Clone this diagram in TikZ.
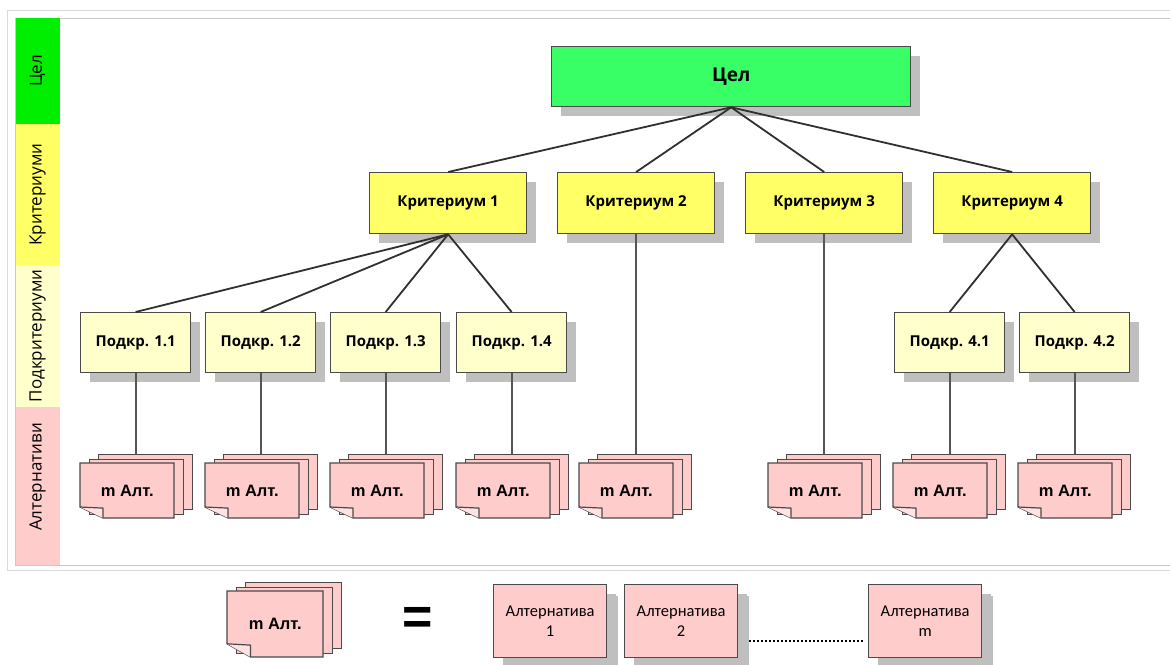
\documentclass[tikz,border=0pt]{standalone}
\usepackage{fontspec}
\setmainfont{Open Sans}
\newfontfamily\cardfont{Liberation Sans}
\newfontfamily\legfont{Carlito}
\usetikzlibrary{shadows}

\definecolor{goalfill}{HTML}{38FF66}
\definecolor{bandgreen}{HTML}{00EE00}
\definecolor{critfill}{HTML}{FFFF66}
\definecolor{subfill}{HTML}{FFFFCC}
\definecolor{pinkfill}{HTML}{FFCCCC}
\definecolor{foldfill}{HTML}{FFE2E2}
\definecolor{boxline}{HTML}{4A4A4A}
\definecolor{linkcol}{HTML}{303030}
\definecolor{dropcol}{HTML}{555555}
\definecolor{frameout}{HTML}{DADADA}
\definecolor{framein}{HTML}{C8C8C8}

\tikzset{
  box/.style={draw=boxline, line width=1.3pt, inner sep=0pt, anchor=north west,
    font=\bfseries\fontsize{15}{18}\selectfont,
    drop shadow={shadow xshift=9pt, shadow yshift=-9pt, fill=black!25, opacity=1}},
  goalbox/.style={box, fill=goalfill, minimum width=359pt, minimum height=60pt,
    font=\bfseries\fontsize{19}{22}\selectfont},
  critbox/.style={box, fill=critfill, minimum width=157pt, minimum height=61pt},
  subbox/.style={box, fill=subfill, minimum width=110pt, minimum height=60pt},
  altbox/.style={box, fill=pinkfill, minimum width=113pt, minimum height=73pt,
    font=\legfont\fontsize{16.5}{19.5}\selectfont, align=center,
    drop shadow={shadow xshift=11pt, shadow yshift=-11pt, fill=black!25, opacity=1}},
  link/.style={draw=linkcol, line width=1.8pt},
  droplink/.style={draw=dropcol, line width=2.2pt},
  cardline/.style={draw=boxline, line width=1.2pt},
  cardback/.style={cardline, fill=pinkfill, anchor=north west, inner sep=0pt},
  cardface/.style={anchor=north west, inner sep=0pt,
    font=\cardfont\bfseries\fontsize{16.5}{19}\selectfont},
  bandlabel/.style={rotate=90, font=\fontsize{17}{20}\selectfont},
}

% stack of three alternative cards: name, left x, top y, width, height
\newcommand\altstack[5]{%
  \node[cardback, minimum width=#4pt, minimum height=#5pt] (#1c) at (#2+18,#3-9) {};
  \node[cardback, minimum width=#4pt, minimum height=#5pt] (#1b) at (#2+9,#3-4.5) {};
  \draw[cardline, fill=pinkfill] (#2,#3) -- (#2+#4,#3) -- (#2+#4,#3+#5)
    -- (#2+0.245*#4,#3+#5) -- (#2,#3+0.8*#5) -- cycle;
  \draw[cardline, fill=foldfill] (#2,#3+0.8*#5) -- (#2+0.245*#4,#3+0.82*#5)
    -- (#2+0.245*#4,#3+#5);
  \node[cardface, minimum width=#4pt, minimum height=#5pt] (#1) at (#2,#3) {m Алт.};
}

\begin{document}
\begin{tikzpicture}[x=1pt, y=-1pt]
\useasboundingbox (0,0) rectangle (1170,664);
\fill[white] (0,0) rectangle (1170,664);

% frame
\draw[frameout, line width=1pt] (1170,10) -- (7,10) -- (7,570) -- (1170,570);
\draw[framein, line width=1pt] (1170,18) -- (15.5,18) -- (15.5,565) -- (1170,565);

% level bands
\fill[bandgreen] (16,18) rectangle (59.5,124);
\fill[critfill] (16,124) rectangle (59.5,265);
\fill[subfill] (16,265) rectangle (59.5,407);
\fill[pinkfill] (16,407) rectangle (59.5,565);
\node[bandlabel] (lgoal) at (37.5,71) {Цел};
\node[bandlabel] (lcrit) at (37.5,194.5) {Критериуми};
\node[bandlabel] (lsub) at (37.5,336) {Подкритериуми};
\node[bandlabel] (lalt) at (37.5,477) {Алтернативи};

% hierarchy
\node[goalbox] (goal) at (551,46) {Цел};

\node[critbox] (c1) at (369,172) {Критериум 1};
\node[critbox] (c2) at (557,172) {Критериум 2};
\node[critbox] (c3) at (745,172) {Критериум 3};
\node[critbox] (c4) at (933,172) {Критериум 4};

\node[subbox] (s11) at (80,312) {Подкр. 1.1};
\node[subbox] (s12) at (205,312) {Подкр. 1.2};
\node[subbox] (s13) at (330,312) {Подкр. 1.3};
\node[subbox] (s14) at (456,312) {Подкр. 1.4};
\node[subbox] (s41) at (894,312) {Подкр. 4.1};
\node[subbox] (s42) at (1019,312) {Подкр. 4.2};

\altstack{a11}{80}{463}{94}{55}
\altstack{a12}{205}{463}{94}{55}
\altstack{a13}{330}{463}{94}{55}
\altstack{a14}{456}{463}{94}{55}
\altstack{a2}{579}{463}{94}{55}
\altstack{a3}{768}{463}{94}{55}
\altstack{a41}{893}{463}{94}{55}
\altstack{a42}{1018}{463}{94}{55}

\foreach \c in {c1,c2,c3,c4} \draw[link] (goal.south) -- (\c.north);
\foreach \s in {s11,s12,s13,s14} \draw[link] (c1.south) -- (\s.north);
\foreach \s in {s41,s42} \draw[link] (c4.south) -- (\s.north);

\draw[droplink] (s11.south) -- (s11.south |- a11c.north);
\draw[droplink] (s12.south) -- (s12.south |- a12c.north);
\draw[droplink] (s13.south) -- (s13.south |- a13c.north);
\draw[droplink] (s14.south) -- (s14.south |- a14c.north);
\draw[droplink] (c2.south) -- (c2.south |- a2c.north);
\draw[droplink] (c3.south) -- (c3.south |- a3c.north);
\draw[droplink] (s41.south) -- (s41.south |- a41c.north);
\draw[droplink] (s42.south) -- (s42.south |- a42c.north);

% legend
\altstack{leg}{227}{591}{96}{66}
\node[font=\cardfont\bfseries\fontsize{52}{52}\selectfont] (eq) at (418,621) {=};

\node[altbox] (alt1) at (493,584) {Алтернатива\\1};
\node[altbox] (alt2) at (624,584) {Алтернатива\\2};
\node[altbox] (altm) at (868,584) {Алтернатива\\m};
\draw[black, line width=2pt, dash pattern=on 2pt off 2pt] ([xshift=11pt,yshift=-19.5pt]alt2.east) -- ([xshift=-5pt,yshift=-19.5pt]altm.west);
\end{tikzpicture}
\end{document}
